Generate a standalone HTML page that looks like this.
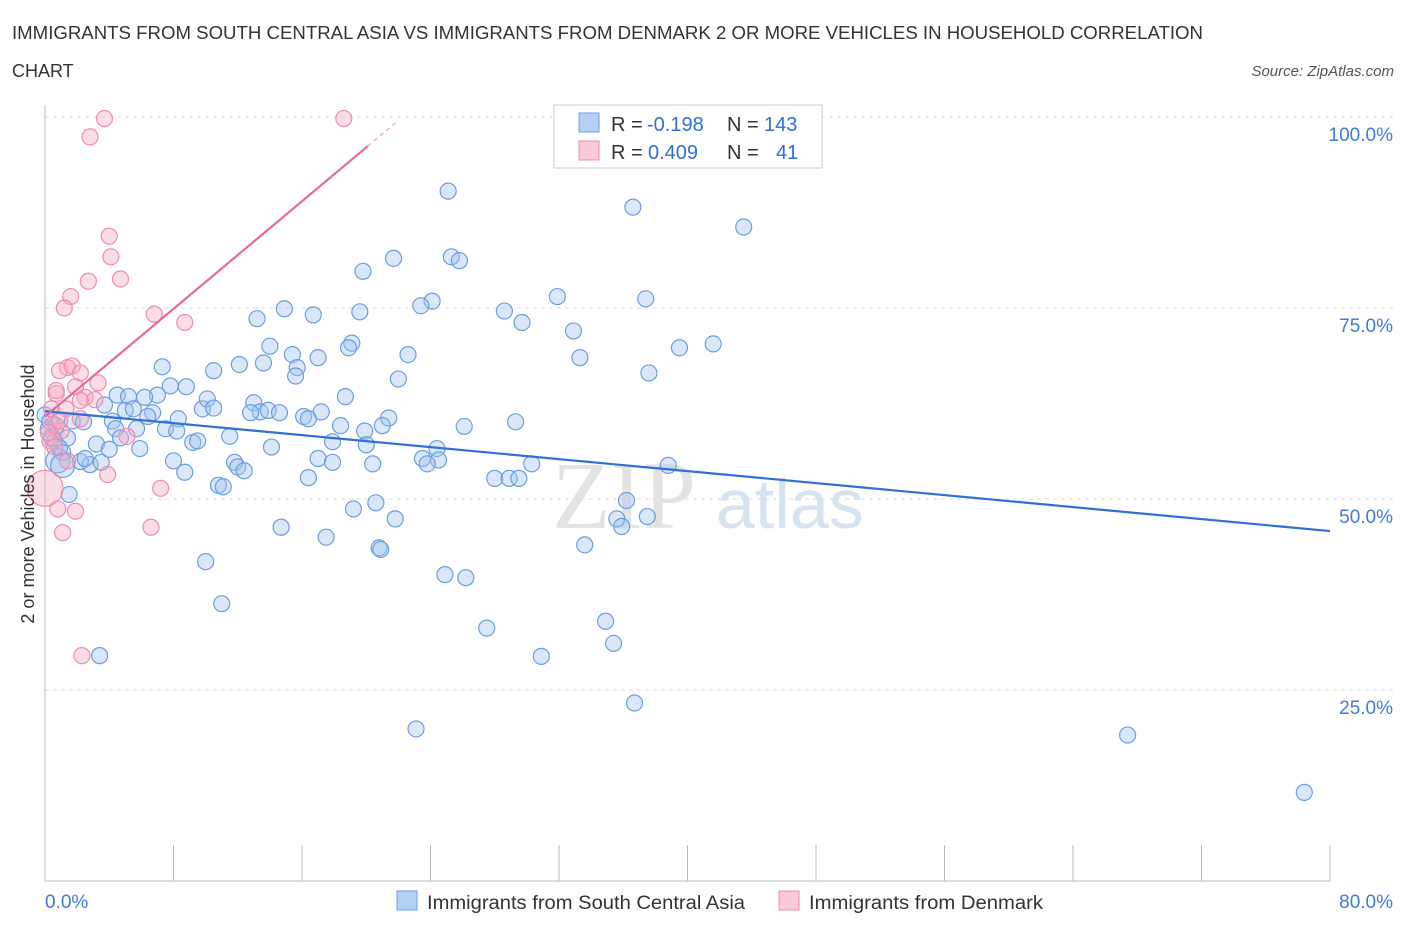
<!DOCTYPE html>
<html><head><meta charset="utf-8"><style>
body{margin:0;background:#fff;font-family:"Liberation Sans",sans-serif;}
</style></head><body>
<svg id="chart" width="1406" height="930" xmlns="http://www.w3.org/2000/svg" font-family="Liberation Sans, sans-serif">
<text x="12" y="39" font-size="18" fill="#333" textLength="1191" lengthAdjust="spacingAndGlyphs">IMMIGRANTS FROM SOUTH CENTRAL ASIA VS IMMIGRANTS FROM DENMARK 2 OR MORE VEHICLES IN HOUSEHOLD CORRELATION</text>
<text x="12" y="77" font-size="18" fill="#333">CHART</text>
<text x="1394" y="76" font-size="15" fill="#555" text-anchor="end" font-style="italic">Source: ZipAtlas.com</text>
<text x="552" y="528" font-size="96" fill="#d8d8d8" font-family="Liberation Serif, serif" opacity="0.7">ZIP</text>
<text x="716" y="528" font-size="70" fill="#c5d8ef" opacity="0.7">atlas</text>
<g id="grid"></g>
<g id="axes"></g>
<g id="pts"></g>
<g id="lines"></g>
<text transform="translate(34,494) rotate(-90)" font-size="18" fill="#333" text-anchor="middle">2 or more Vehicles in Household</text>
<g>
<rect x="554" y="105" width="268" height="63" fill="#fff" stroke="#ccc"/>
<rect x="579" y="113" width="20" height="19" fill="#b5d0f5" stroke="#6a9fe0"/>
<rect x="579" y="141" width="20" height="19" fill="#fbc9d8" stroke="#f08cb0"/>
<text x="611" y="131" font-size="20" fill="#333">R =</text>
<text x="647" y="131" font-size="20" fill="#2f6fd6">-0.198</text>
<text x="727" y="131" font-size="20" fill="#333">N =</text>
<text x="764" y="131" font-size="20" fill="#2f6fd6">143</text>
<text x="611" y="159" font-size="20" fill="#333">R =</text>
<text x="648" y="159" font-size="20" fill="#2f6fd6">0.409</text>
<text x="727" y="159" font-size="20" fill="#333">N =</text>
<text x="776" y="159" font-size="20" fill="#2f6fd6">41</text>
</g>
<g>
<rect x="397" y="891" width="20" height="19" fill="#b5d0f5" stroke="#6a9fe0"/>
<text x="427" y="909" font-size="19" fill="#333" textLength="318" lengthAdjust="spacingAndGlyphs">Immigrants from South Central Asia</text>
<rect x="779" y="891" width="20" height="19" fill="#fbc9d8" stroke="#f08cb0"/>
<text x="809" y="909" font-size="19" fill="#333" textLength="234" lengthAdjust="spacingAndGlyphs">Immigrants from Denmark</text>
</g>
</svg>
<script>
const blueX=[25.1,36.6,43.5,21.7,19.8,25.3,25.8,24.1,23.4,31.9,37.4,28.6,29.7,32.9,14.9,16.7,13.2,19.6,19.1,18.9,14.0,15.4,17.0,22.6,33.3,39.5,41.6,37.6,7.3,10.5,12.1,13.6,15.7,15.6,22.0,18.7,8.8,7.8,7.0,6.2,4.5,5.2,3.7,5.0,5.5,6.7,6.4,8.3,9.8,10.1,10.5,13.0,13.4,13.9,12.8,14.6,17.2,16.1,16.4,21.4,21.0,18.4,19.9,26.1,29.3,4.2,4.4,5.7,7.5,8.2,9.2,9.5,11.5,14.1,17.9,20.0,24.4,23.5,24.5,23.8,17.0,17.9,20.4,11.8,8.0,8.7,12.0,12.4,16.4,28.0,28.9,29.5,30.3,38.8,10.8,11.1,36.2,35.6,35.9,37.5,20.6,19.2,21.8,14.7,17.5,20.8,20.9,33.6,10.0,24.9,26.2,11.0,34.9,35.4,27.5,30.9,23.1,36.7,67.4,78.4,3.4,1.5,0.8,2.8,3.5,2.2,3.2,1.4,0.6,1.7,2.4,0.9,1.1,0.2,0.4,0.7,0,0.3,4.0,5.9,4.7,2.5,1.1];
const blueY=[90.3,88.2,85.6,81.5,79.8,81.7,81.2,75.9,75.3,76.5,76.2,74.6,73.1,72.0,74.9,74.1,73.6,74.5,70.4,69.8,70.0,68.9,68.5,68.9,68.5,69.8,70.3,66.5,67.3,66.8,67.6,67.8,67.2,66.1,65.7,63.4,64.7,64.8,63.6,63.3,63.6,63.4,62.3,61.6,61.8,61.3,60.8,60.5,61.8,63.1,61.9,62.6,61.4,61.6,61.3,61.3,61.4,60.8,60.5,60.6,59.6,59.6,58.9,59.5,60.1,60.2,59.2,59.2,59.2,58.9,57.4,57.6,58.2,56.8,57.5,57.1,56.6,55.3,55.1,54.6,55.3,54.8,54.6,54.8,55.0,53.5,54.2,53.7,52.8,52.7,52.7,52.7,54.6,54.4,51.8,51.6,49.8,47.4,46.4,47.7,49.5,48.7,47.4,46.3,45.0,43.6,43.4,44.0,41.8,40.1,39.7,36.3,34.0,31.1,33.1,29.4,19.9,23.3,19.1,11.6,29.5,50.6,55.0,54.5,54.8,54.9,57.2,58.0,57.6,60.2,60.1,56.7,56.1,59.2,58.0,59.6,61.0,60.2,56.5,56.6,58.0,55.3,54.4];
const pinkX=[3.7,18.6,2.8,4.0,4.1,4.7,2.7,1.6,1.2,6.8,8.7,1.4,0.9,1.7,2.2,0.7,0.7,1.9,3.3,2.5,3.1,0.4,2.2,1.0,0.3,5.1,1.4,0,3.9,7.2,0.8,1.9,1.1,6.6,2.3,0.5,0.2,0.6,1.3,2.2,0.9];
const pinkY=[99.8,99.8,97.4,84.4,81.7,78.8,78.5,76.5,75.0,74.2,73.1,67.2,66.8,67.4,66.5,63.8,64.2,64.7,65.2,63.3,63.0,61.8,60.5,58.9,57.6,58.2,55.0,51.4,53.2,51.4,48.7,48.4,45.6,46.3,29.5,59.7,58.7,56.8,61.8,62.9,60.2];
const xTicks=[0,8,16,24,32,40,48,56,64,72,80];
const yTicks=[25,50,75,100];
const yTickLabels=["25.0%","50.0%","75.0%","100.0%"];
const blueTrend=[61.5,45.8];
const pinkTrend=[60.8,96.2];
const NS="http://www.w3.org/2000/svg";
const X0=45,X1=1330,Y0=881,Y100=117;
const sx=v=>X0+(v/80)*(X1-X0);
const sy=v=>Y0-(v/100)*(Y0-Y100);
function mk(tag,attrs,parent){const e=document.createElementNS(NS,tag);for(const k in attrs)e.setAttribute(k,attrs[k]);parent.appendChild(e);return e;}
const grid=document.getElementById('grid'),axes=document.getElementById('axes'),pts=document.getElementById('pts'),lines=document.getElementById('lines');
yTicks.forEach((t,i)=>{
 const g=mk('line',{x1:X0,x2:1395,y1:sy(t),y2:sy(t),stroke:'#ddd','stroke-dasharray':'4,4'},grid);
 
 
 const l=mk('text',{x:1393,y:sy(t)+24,'font-size':19,fill:'#3f7bd8','text-anchor':'end'},axes);
 l.textContent=yTickLabels[i];
 
 
});
const ax=mk('line',{x1:X0,x2:X0,y1:105,y2:Y0,stroke:'#bbb'},axes);


const bx=mk('line',{x1:X0,x2:X1,y1:Y0,y2:Y0,stroke:'#bbb'},axes);


xTicks.forEach(t=>{
 const tk=mk('line',{x1:sx(t),x2:sx(t),y1:845,y2:Y0,stroke:'#bbb'},axes);
 
 
});
const xl0=mk('text',{x:45,y:908,'font-size':19,fill:'#3f7bd8'},axes);xl0.textContent='0.0%';


const xl1=mk('text',{x:1393,y:908,'font-size':19,fill:'#3f7bd8','text-anchor':'end'},axes);xl1.textContent='80.0%';


blueX.forEach((v,i)=>{
 const big=(v<1.5&&blueY[i]>54&&blueY[i]<56)?12:8;
 const c=mk('circle',{cx:sx(v),cy:sy(blueY[i]),r:big,fill:'rgba(160,195,240,0.4)',stroke:'#6a9fe0','stroke-width':1.2},pts);
 
 
});
pinkX.forEach((v,i)=>{
 const big=(v===0)?18:8;
 const c=mk('circle',{cx:sx(v),cy:sy(pinkY[i]),r:big,fill:'rgba(245,170,195,0.4)',stroke:'#f08cb0','stroke-width':1.2},pts);
 
 
});
const bl=mk('line',{x1:sx(0),y1:sy(blueTrend[0]),x2:sx(80),y2:sy(blueTrend[1]),stroke:'#2f6fd6','stroke-width':2.2},lines);


const slope=(pinkTrend[1]-pinkTrend[0])/20.1;
const pl=mk('line',{x1:sx(0),y1:sy(pinkTrend[0]),x2:sx(20.1),y2:sy(pinkTrend[1]),stroke:'#e8689a','stroke-width':2.2},lines);


const pd=mk('line',{x1:sx(20.1),y1:sy(pinkTrend[1]),x2:sx(22),y2:sy(pinkTrend[0]+slope*22),stroke:'#f0a0bd','stroke-width':1.2,'stroke-dasharray':'4,4'},lines);


</script>
</body></html>
